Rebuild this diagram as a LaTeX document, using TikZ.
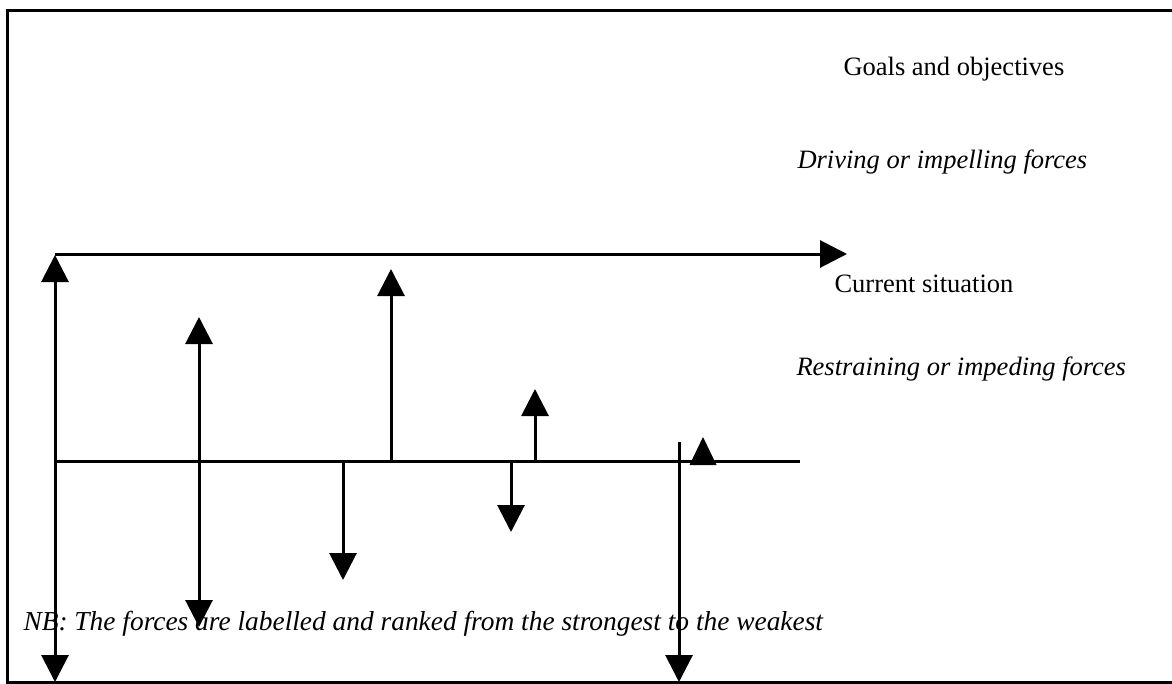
\documentclass[tikz,border=0pt]{standalone}
\usepackage{fontspec}
\setmainfont{Liberation Serif}
\usetikzlibrary{arrows.meta}
\begin{document}
\begin{tikzpicture}[x=1pt,y=-1pt,line width=3pt,
  hd/.tip={Triangle[length=27pt,width=27pt]},
  force/.style={-hd},
  both/.style={hd-hd},
  lbl/.style={anchor=base west,inner sep=0pt,font=\fontsize{26.5}{30}\selectfont},
  ilbl/.style={lbl,font=\fontsize{26.5}{30}\selectfont\itshape}]
\useasboundingbox (0,0) rectangle (1172,683);
% frame
\coordinate (ftr) at (1180,10);
\coordinate (ftl) at (7,10);
\coordinate (fbl) at (7,682);
\coordinate (fbr) at (1180,682);
\draw (ftr) -- (ftl) -- (fbl) -- (fbr);
% labels
\node[lbl] (goals) at (842,75) {Goals and objectives};
\node[ilbl] (driving) at (796,168) {Driving or impelling forces};
\node[lbl] (current) at (833,292) {Current situation};
\node[ilbl] (restrain) at (795,375) {Restraining or impeding forces};
\node[ilbl,font=\fontsize{27.4}{30}\selectfont\itshape] (nb) at (22,630) {NB: The forces are labelled and ranked from the strongest to the weakest};
% coordinates
\coordinate (a1t) at (55,255);
\coordinate (a1b) at (55,682);
\coordinate (h1l) at (55,254);
\coordinate (h1r) at (847,254);
\coordinate (a2t) at (199,317);
\coordinate (a2b) at (199,627);
\coordinate (a3b) at (391,461);
\coordinate (a3t) at (391,269);
\coordinate (a4t) at (343,461);
\coordinate (a4b) at (343,580);
\coordinate (a5b) at (535,461);
\coordinate (a5t) at (535,389);
\coordinate (a6t) at (511,461);
\coordinate (a6b) at (511,532);
\coordinate (a7t) at (679,442);
\coordinate (a7b) at (679,682);
\coordinate (h2l) at (55,461);
\coordinate (h2r) at (800,461);
% lines and arrows
\draw[force] (h1l) -- (h1r);
\draw[both] (a1b) -- (a1t);
\draw (h2l) -- (h2r);
\draw[both] (a2b) -- (a2t);
\draw[force] (a3b) -- (a3t);
\draw[force] (a4t) -- (a4b);
\draw[force] (a5b) -- (a5t);
\draw[force] (a6t) -- (a6b);
\draw[force] (a7t) -- (a7b);
% free arrowhead
\fill (689.5,465) -- (716.5,465) -- (703,437) -- cycle;
\end{tikzpicture}
\end{document}
